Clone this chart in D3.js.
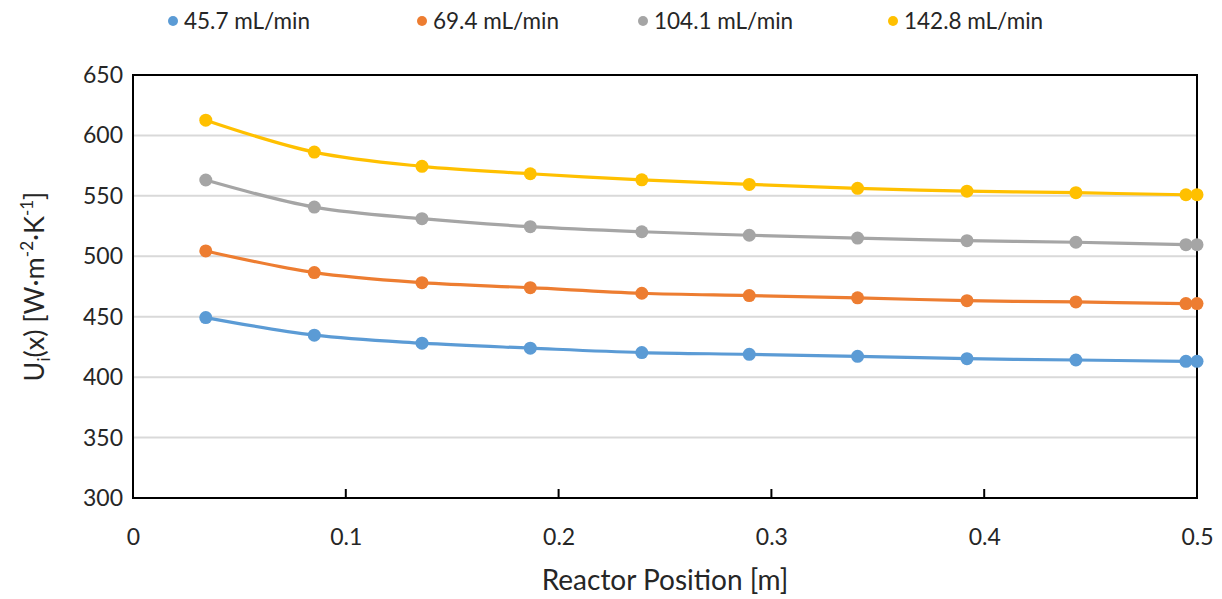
<!DOCTYPE html>
<html><head><meta charset="utf-8">
<script src="https://cdn.jsdelivr.net/npm/d3@7"></script>
<style>body{margin:0;background:#fff}svg{display:block}text{font-family:Lato,"Open Sans",sans-serif;fill:#262626}</style>
</head><body><svg id="c" width="1222" height="599"></svg>
<script>
const positions = [0.0342, 0.0852, 0.1358, 0.1867, 0.2391, 0.2896, 0.3405, 0.3919, 0.4431, 0.4948, 0.5];
const seriesNames = ["45.7 mL/min", "69.4 mL/min", "104.1 mL/min", "142.8 mL/min"];
const flow457 = [449.3, 434.7, 428.1, 424.0, 420.3, 418.9, 417.2, 415.3, 414.2, 413.1, 413.1];
const flow694 = [504.4, 486.5, 478.2, 474.0, 469.4, 467.5, 465.6, 463.3, 462.2, 460.9, 460.9];
const flow1041 = [563.1, 540.7, 531.1, 524.5, 520.3, 517.4, 515.1, 512.9, 511.6, 509.6, 509.6];
const flow1428 = [612.6, 586.2, 574.4, 568.3, 563.3, 559.5, 556.2, 553.9, 552.6, 550.9, 551.0];
const colors = ["#5B9BD5", "#ED7D31", "#A5A5A5", "#FFC000"];
const xTicks = [0, 0.1, 0.2, 0.3, 0.4, 0.5];
const yTicks = [300, 350, 400, 450, 500, 550, 600, 650];

const series = [flow457, flow694, flow1041, flow1428];
const svg = d3.select("#c");
const L = 133, R = 1197, T = 75, B = 498;
const x = d3.scaleLinear().domain([0, 0.5]).range([L, R]);
const y = d3.scaleLinear().domain([300, 650]).range([B, T]);

// gridlines
svg.append("g").selectAll("line").data(yTicks.filter(v => v > 300 && v < 650)).join("line")
  .attr("x1", L).attr("x2", R).attr("y1", d => y(d)).attr("y2", d => y(d))
  .attr("stroke", "#D9D9D9").attr("stroke-width", 2);

// y tick labels
svg.append("g").selectAll("text").data(yTicks).join("text")
  .attr("x", 123).attr("y", d => y(d)).attr("dy", "0.35em").attr("text-anchor", "end")
  .attr("font-size", 23).text(d => d);

// x axis with inner ticks
const xAxis = d3.axisBottom(x).tickValues(xTicks).tickSize(0).tickFormat(d => d === 0 ? "0" : d3.format(".1f")(d));
const gx = svg.append("g").attr("transform", `translate(0,${B})`).call(xAxis);
gx.select(".domain").remove();
gx.selectAll("text").attr("font-size", 23).attr("dy", 0).attr("y", 47).attr("fill", "#262626")
  .style("font-family", "Lato, 'Open Sans', sans-serif");
svg.append("g").selectAll("line").data(xTicks.slice(1, -1)).join("line")
  .attr("x1", d => x(d)).attr("x2", d => x(d)).attr("y1", B).attr("y2", B - 9)
  .attr("stroke", "#000").attr("stroke-width", 2);

// frame
svg.append("rect").attr("x", L).attr("y", T).attr("width", R - L).attr("height", B - T)
  .attr("fill", "none").attr("stroke", "#000").attr("stroke-width", 2);

// series
const line = d3.line().x((d, i) => x(positions[i])).y(d => y(d)).curve(d3.curveCatmullRom.alpha(0.5));
series.forEach((s, k) => {
  const g = svg.append("g");
  g.append("path").attr("d", line(s)).attr("fill", "none").attr("stroke", colors[k]).attr("stroke-width", 3.2);
  g.selectAll("circle").data(s).join("circle")
    .attr("cx", (d, i) => x(positions[i])).attr("cy", d => y(d)).attr("r", 6.5).attr("fill", colors[k]);
});

// legend
const legX = [173, 422, 643, 893];
const leg = svg.append("g");
seriesNames.forEach((n, k) => {
  leg.append("circle").attr("cx", legX[k]).attr("cy", 21).attr("r", 5).attr("fill", colors[k]);
  leg.append("text").attr("x", legX[k] + 11).attr("y", 21).attr("dy", "0.35em").attr("font-size", 22.5).text(n);
});

// axis titles
svg.append("text").attr("x", 665).attr("y", 590).attr("text-anchor", "middle").attr("font-size", 28).text("Reactor Position [m]");
const yt = svg.append("text").attr("transform", `translate(44,${(T + B) / 2}) rotate(-90)`).attr("text-anchor", "middle").attr("font-size", 27);
yt.append("tspan").text("U");
yt.append("tspan").attr("font-size", 17).attr("dy", 6).text("i");
yt.append("tspan").attr("dy", -6).text("(x) [W·m");
yt.append("tspan").attr("font-size", 17).attr("dy", -11).text("-2");
yt.append("tspan").attr("dy", 11).text("·K");
yt.append("tspan").attr("font-size", 17).attr("dy", -11).text("-1");
yt.append("tspan").attr("dy", 11).text("]");
</script></body></html>
